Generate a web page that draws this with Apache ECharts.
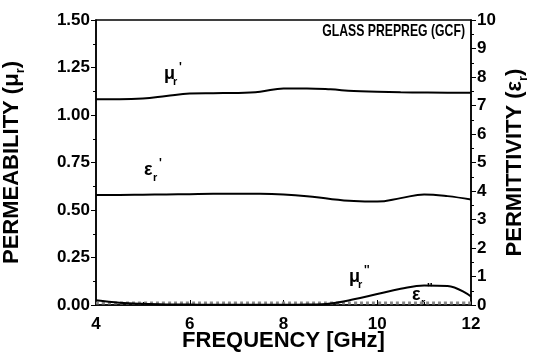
<!DOCTYPE html>
<html>
<head>
<meta charset="utf-8">
<script src="https://cdn.jsdelivr.net/npm/echarts@6/dist/echarts.min.js"></script>
<style>
  html, body { margin: 0; padding: 0; background: #fff; }
  #chart { width: 534px; height: 358px; }
</style>
</head>
<body>
<div id="chart"></div>
<script>
// frequency points (GHz)
const freq = [4, 4.5, 5, 5.5, 6, 6.5, 7, 7.5, 8, 8.5, 9, 9.5, 10, 10.5, 11, 11.5, 12];
// permeability (left axis)
const muReal = [1.083, 1.083, 1.087, 1.100, 1.113, 1.115, 1.116, 1.122, 1.140, 1.140, 1.135, 1.126, 1.123, 1.120, 1.118, 1.117, 1.117];
const muImag = [0.025, 0.012, 0.006, 0.003, 0.002, 0.001, 0.001, 0.001, 0.001, 0.002, 0.008, 0.030, 0.058, 0.085, 0.103, 0.100, 0.045];
// permittivity (right axis)
const epsReal = [3.86, 3.86, 3.87, 3.88, 3.89, 3.90, 3.90, 3.90, 3.88, 3.82, 3.72, 3.65, 3.63, 3.75, 3.88, 3.82, 3.70];
const epsImag = [0.07, 0.07, 0.07, 0.07, 0.07, 0.07, 0.07, 0.07, 0.07, 0.07, 0.07, 0.07, 0.07, 0.07, 0.07, 0.07, 0.07];

const FONT = "Liberation Sans";
const pair = (ys) => freq.map((f, i) => [f, ys[i]]);

// annotation: greek letter + subscript r + primes
function curveLabel(x, y, letter, primes) {
  return {
    type: "group",
    x: x,
    y: y,
    children: [
      { type: "text", x: 0, y: 0, style: { text: letter, font: "bold 18px " + FONT, fill: "#000", verticalAlign: "middle" } },
      { type: "text", x: 9, y: 8, style: { text: "r", font: "bold 11px " + FONT, fill: "#000", verticalAlign: "middle" } },
      { type: "text", x: 15, y: -6, style: { text: primes, font: "bold 12px " + FONT, fill: "#000", verticalAlign: "middle" } },
    ],
  };
}

var myChart = echarts.init(document.getElementById("chart"));

const axisLine = { show: true, lineStyle: { color: "#000", width: 1.5 } };
const labelStyle = { color: "#000", fontSize: 17, fontWeight: "bold", fontFamily: FONT };
const nameStyle = {
  color: "#000",
  fontSize: 22,
  fontWeight: "bold",
  fontFamily: FONT,
  lineHeight: 30,
  rich: {
    s: { fontSize: 13, fontWeight: "bold", fontFamily: FONT, color: "#000", lineHeight: 10, verticalAlign: "bottom" },
  },
};

const option = {
  animation: false,
  grid: {
    left: 96, right: 63, top: 20, bottom: 53,
    outerBoundsMode: "none", containLabel: false,
    show: true, borderColor: "#000", borderWidth: 1.5,
  },
  xAxis: {
    type: "value",
    min: 4,
    max: 12,
    interval: 2,
    axisLine: axisLine,
    axisTick: { inside: true, length: 5, lineStyle: { color: "#000", width: 1 } },
    minorTick: { show: true, splitNumber: 2, length: 3, lineStyle: { color: "#000" } },
    axisLabel: Object.assign({ margin: 11 }, labelStyle),
    splitLine: { show: false },
    name: "FREQUENCY [GHz]",
    nameLocation: "middle",
    nameMoveOverlap: false,
    nameGap: 25,
    nameTextStyle: { color: "#000", fontSize: 22, fontWeight: "bold", fontFamily: FONT },
  },
  yAxis: [
    {
      type: "value",
      position: "left",
      min: 0,
      max: 1.5,
      interval: 0.25,
      axisLine: axisLine,
      axisTick: { inside: false, length: 5, lineStyle: { color: "#000" } },
      minorTick: { show: true, splitNumber: 2, length: 3, lineStyle: { color: "#000" } },
      axisLabel: Object.assign({ margin: 6, formatter: (v) => v.toFixed(2) }, labelStyle),
      splitLine: { show: false },
      name: "PERMEABILITY (μ{s|r})",
      nameLocation: "middle",
      nameMoveOverlap: false,
      nameRotate: 90,
      nameGap: 69,
      nameTextStyle: nameStyle,
    },
    {
      type: "value",
      position: "right",
      min: 0,
      max: 10,
      interval: 1,
      axisLine: axisLine,
      axisTick: { inside: false, length: 5, lineStyle: { color: "#000" } },
      minorTick: { show: true, splitNumber: 2, length: 3, lineStyle: { color: "#000" } },
      axisLabel: Object.assign({ margin: 6 }, labelStyle),
      splitLine: { show: false },
      name: "PERMITTIVITY (ε{s|r})",
      nameLocation: "middle",
      nameMoveOverlap: false,
      nameRotate: 90,
      nameGap: 29,
      nameTextStyle: nameStyle,
    },
  ],
  series: [
    {
      name: "eps''",
      type: "line",
      yAxisIndex: 1,
      data: pair(epsImag),
      showSymbol: false,
      smooth: 0.4,
      lineStyle: { color: "#8a8a8a", width: 3, type: "dotted" },
    },
    {
      name: "mu'",
      type: "line",
      yAxisIndex: 0,
      data: pair(muReal),
      showSymbol: false,
      smooth: 0.4,
      lineStyle: { color: "#000", width: 2 },
    },
    {
      name: "mu''",
      type: "line",
      yAxisIndex: 0,
      data: pair(muImag),
      showSymbol: false,
      smooth: 0.4,
      lineStyle: { color: "#000", width: 2 },
    },
    {
      name: "eps'",
      type: "line",
      yAxisIndex: 1,
      data: pair(epsReal),
      showSymbol: false,
      smooth: 0.4,
      lineStyle: { color: "#000", width: 2 },
    },
  ],
  graphic: [
    {
      type: "text",
      x: 465,
      y: 31,
      scaleX: 0.72,
      style: { text: "GLASS PREPREG (GCF)", font: "bold 17px " + FONT, fill: "#000", align: "right", verticalAlign: "middle" },
    },
    curveLabel(164, 74, "μ", "'"),
    curveLabel(144, 170, "ε", "'"),
    curveLabel(349, 277, "μ", "''"),
    curveLabel(412, 295, "ε", "''"),
  ],
};

myChart.setOption(option);
</script>
</body>
</html>
